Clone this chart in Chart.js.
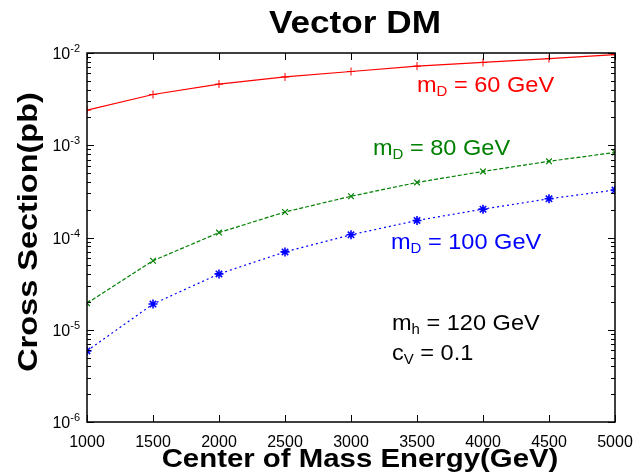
<!DOCTYPE html>
<html>
<head>
<meta charset="utf-8">
<script src="https://cdn.jsdelivr.net/npm/chart.js@4"></script>
<style>
  body { margin: 0; background: #fff; }
  #box { width: 638px; height: 476px; }
</style>
</head>
<body>
<div id="box"><canvas id="myChart"></canvas></div>
<script>
// center of mass energy (GeV)
let energies = [1000, 1500, 2000, 2500, 3000, 3500, 4000, 4500, 5000];
// cross sections (pb)
let md60 = [2.4e-3, 3.55e-3, 4.6e-3, 5.5e-3, 6.3e-3, 7.2e-3, 7.9e-3, 8.7e-3, 9.6e-3];
let md80 = [1.94e-5, 5.6e-5, 1.13e-4, 1.89e-4, 2.8e-4, 3.95e-4, 5.2e-4, 6.7e-4, 8.35e-4];
let md100 = [5.9e-6, 1.9e-5, 4.03e-5, 6.98e-5, 1.07e-4, 1.53e-4, 2.03e-4, 2.63e-4, 3.27e-4];

let xTicks = [1000, 1500, 2000, 2500, 3000, 3500, 4000, 4500, 5000];
let yExponents = [-2, -3, -4, -5, -6];

let font = "Arial, 'Liberation Sans', sans-serif";

function points(vals) {
  return energies.map((e, i) => ({ x: e, y: vals[i] }));
}

// text stretched sideways by sx, anchored at (x, y)
function wideText(ctx, text, x, y, sx, align) {
  ctx.save();
  ctx.translate(x, y);
  ctx.scale(sx, 1);
  ctx.textAlign = align;
  ctx.fillText(text, 0, 0);
  ctx.restore();
}

// "base" + subscript + rest, starting at x
function subText(ctx, x, y, base, sub, rest, size) {
  let sx = 1.07;
  ctx.save();
  ctx.translate(x, y);
  ctx.scale(sx, 1);
  ctx.textAlign = "left";
  let cx = 0;
  ctx.font = size + "px " + font;
  ctx.fillText(base, cx, 0);
  cx += ctx.measureText(base).width;
  ctx.font = Math.round(size * 0.64) + "px " + font;
  ctx.fillText(sub, cx, size * 0.2);
  cx += ctx.measureText(sub).width;
  ctx.font = size + "px " + font;
  ctx.fillText(rest, cx, 0);
  ctx.restore();
}

let framePlugin = {
  id: "frame",
  afterDraw(chart) {
    let ctx = chart.ctx;
    let a = chart.chartArea;
    let xs = chart.scales.x;
    let ys = chart.scales.y;
    ctx.save();

    // box
    ctx.strokeStyle = "#000";
    ctx.lineWidth = 1.5;
    ctx.strokeRect(a.left, a.top, a.right - a.left, a.bottom - a.top);

    // x ticks, pointing in, top and bottom
    ctx.lineWidth = 1;
    ctx.beginPath();
    xTicks.forEach((t) => {
      let px = Math.round(xs.getPixelForValue(t)) + 0.5;
      ctx.moveTo(px, a.bottom);
      ctx.lineTo(px, a.bottom - 7);
      ctx.moveTo(px, a.top);
      ctx.lineTo(px, a.top + 7);
    });
    // y ticks, major and minor, left and right
    for (let e = -6; e <= -2; e++) {
      for (let m = 1; m <= 9; m++) {
        let v = m * Math.pow(10, e);
        if (v > 1e-2 * 1.0001) break;
        let py = Math.round(ys.getPixelForValue(v)) + 0.5;
        let len = m == 1 ? 7 : 4;
        ctx.moveTo(a.left, py);
        ctx.lineTo(a.left + len, py);
        ctx.moveTo(a.right, py);
        ctx.lineTo(a.right - len, py);
      }
    }
    ctx.stroke();

    // x tick labels
    ctx.fillStyle = "#000";
    ctx.font = "16px " + font;
    ctx.textAlign = "center";
    ctx.textBaseline = "alphabetic";
    xTicks.forEach((t) => {
      ctx.fillText(String(t), xs.getPixelForValue(t), a.bottom + 25);
    });

    // y tick labels 10^n
    yExponents.forEach((e) => {
      let py = ys.getPixelForValue(Math.pow(10, e));
      let sup = String(e);
      ctx.font = "11px " + font;
      let sw = ctx.measureText(sup).width;
      ctx.textAlign = "right";
      ctx.fillText(sup, a.left - 7, py - 1);
      ctx.font = "16px " + font;
      ctx.fillText("10", a.left - 7 - sw, py + 6);
    });

    // titles
    ctx.font = "bold 32px " + font;
    wideText(ctx, "Vector DM", 355, 33, 1.1, "center");
    ctx.font = "bold 26px " + font;
    wideText(ctx, "Center of Mass Energy(GeV)", 360, 467, 1.13, "center");
    ctx.save();
    ctx.translate(37, 232);
    ctx.rotate(-Math.PI / 2);
    ctx.font = "bold 28px " + font;
    wideText(ctx, "Cross Section(pb)", 0, 0, 1.16, "center");
    ctx.restore();

    // curve labels
    ctx.fillStyle = "#ff0000";
    subText(ctx, 417, 92, "m", "D", " = 60 GeV", 22);
    ctx.fillStyle = "#008000";
    subText(ctx, 373, 155, "m", "D", " = 80 GeV", 22);
    ctx.fillStyle = "#0000ff";
    subText(ctx, 391, 249, "m", "D", " = 100 GeV", 22);
    ctx.fillStyle = "#000";
    subText(ctx, 392, 330, "m", "h", " = 120 GeV", 22);
    subText(ctx, 392, 360, "c", "V", " = 0.1", 22);

    ctx.restore();
  },
};

const ctx = document.getElementById("myChart");
new Chart(ctx, {
  type: "line",
  data: {
    datasets: [
      {
        label: "mD = 60 GeV",
        data: points(md60),
        borderColor: "#ff0000",
        backgroundColor: "#ff0000",
        borderWidth: 1.2,
        pointStyle: "cross",
        pointRadius: 4,
        pointBorderWidth: 1,
      },
      {
        label: "mD = 80 GeV",
        data: points(md80),
        borderColor: "#008000",
        backgroundColor: "#008000",
        borderWidth: 1.2,
        borderDash: [4, 2],
        pointStyle: "crossRot",
        pointRadius: 4,
        pointBorderWidth: 1.2,
      },
      {
        label: "mD = 100 GeV",
        data: points(md100),
        borderColor: "#0000ff",
        backgroundColor: "#0000ff",
        borderWidth: 1.2,
        borderDash: [2, 3],
        pointStyle: "star",
        pointRadius: 4.5,
        pointBorderWidth: 1.6,
      },
    ],
  },
  options: {
    responsive: true,
    maintainAspectRatio: false,
    animation: false,
    layout: { padding: { left: 87, right: 23, top: 53, bottom: 54 } },
    plugins: { legend: { display: false }, tooltip: { enabled: false } },
    scales: {
      x: {
        type: "linear",
        min: 1000,
        max: 5000,
        display: false,
      },
      y: {
        type: "logarithmic",
        min: 1e-6,
        max: 1e-2,
        display: false,
      },
    },
  },
  plugins: [framePlugin],
});
</script>
</body>
</html>
